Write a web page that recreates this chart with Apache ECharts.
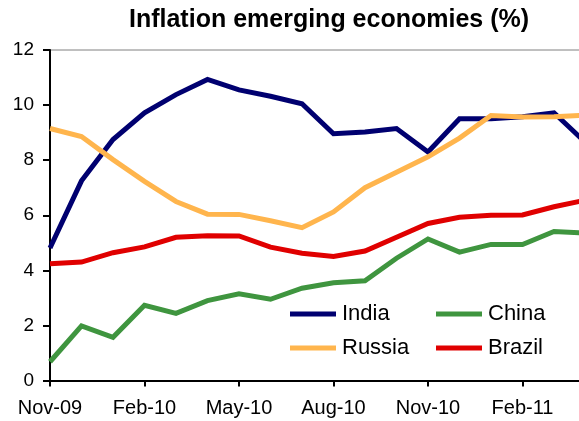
<!DOCTYPE html>
<html>
<head>
<meta charset="utf-8">
<script src="https://cdn.jsdelivr.net/npm/echarts@6/dist/echarts.min.js"></script>
<style>
  html, body { margin: 0; padding: 0; background: #fff; }
  #chart { width: 579px; height: 421px; }
</style>
</head>
<body>
<div id="chart"></div>
<script>
// Monthly inflation, year on year (%)
const months = ['Nov-09','Dec-09','Jan-10','Feb-10','Mar-10','Apr-10','May-10','Jun-10','Jul-10',
                'Aug-10','Sep-10','Oct-10','Nov-10','Dec-10','Jan-11','Feb-11','Mar-11','Apr-11'];
const india  = [4.81, 7.25, 8.75, 9.72, 10.38, 10.93, 10.55, 10.32, 10.05, 8.96, 9.02, 9.15, 8.3, 9.5, 9.5, 9.58, 9.72, 8.64];
const china  = [0.68, 1.98, 1.57, 2.73, 2.44, 2.9, 3.15, 2.95, 3.35, 3.55, 3.62, 4.44, 5.14, 4.66, 4.94, 4.94, 5.41, 5.35];
const russia = [9.15, 8.86, 8.02, 7.23, 6.5, 6.04, 6.03, 5.8, 5.55, 6.12, 7.0, 7.56, 8.12, 8.8, 9.62, 9.57, 9.58, 9.63];
const brazil = [4.24, 4.3, 4.64, 4.85, 5.2, 5.26, 5.25, 4.84, 4.62, 4.5, 4.7, 5.2, 5.7, 5.93, 6.0, 6.01, 6.31, 6.55];
const yTicks = [0, 2, 4, 6, 8, 10, 12];

const colors = { India: '#000070', China: '#3F953F', Russia: '#FFB54D', Brazil: '#E00000' };
const FONT = '"Liberation Sans", Arial, sans-serif';

function lineSeries(name, values) {
  return {
    name: name,
    type: 'line',
    data: values,
    showSymbol: false,
    symbol: 'none',
    lineStyle: { width: 5, color: colors[name], join: 'miter' },
    itemStyle: { color: colors[name] },
    animation: false
  };
}

function legendItem(name, left, top) {
  return {
    data: [name],
    left: left,
    top: top,
    padding: 0,
    icon: 'rect',
    itemWidth: 46,
    itemHeight: 5,
    selectedMode: false,
    textStyle: { fontFamily: FONT, fontSize: 22, color: '#000', padding: [0, 0, 0, 1] }
  };
}

const chart = echarts.init(document.getElementById('chart'), null, { renderer: 'canvas' });
chart.setOption({
  backgroundColor: '#fff',
  animation: false,
  title: {
    text: 'Inflation emerging economies (%)',
    left: 329,
    textAlign: 'center',
    top: 8,
    padding: 0,
    textStyle: { fontFamily: FONT, fontSize: 25, fontWeight: 'bold', color: '#000' }
  },
  legend: [
    legendItem('India', 290, 303),
    legendItem('China', 436, 303),
    legendItem('Russia', 290, 337),
    legendItem('Brazil', 436, 337)
  ],
  grid: {
    left: 50, top: 50, width: 535.5, height: 330.5,
    containLabel: false,
    outerBoundsMode: 'none',
    show: true, borderColor: '#808080', borderWidth: 1, backgroundColor: 'transparent'
  },
  xAxis: {
    type: 'category',
    data: months,
    boundaryGap: false,
    axisLine: { lineStyle: { color: '#000', width: 2 } },
    axisTick: { show: true, length: 6, interval: 2, lineStyle: { color: '#000', width: 2 } },
    axisLabel: { interval: 2, margin: 18, fontFamily: FONT, fontSize: 20, color: '#000' },
    splitLine: { show: false }
  },
  yAxis: {
    type: 'value',
    min: yTicks[0],
    max: yTicks[yTicks.length - 1],
    interval: 2,
    axisLine: { show: true, lineStyle: { color: '#000', width: 2 } },
    axisTick: { show: true, length: 7, lineStyle: { color: '#000', width: 2 } },
    axisLabel: { margin: 16, fontFamily: FONT, fontSize: 19, color: '#000' },
    splitLine: { show: false }
  },
  series: [
    lineSeries('India', india),
    lineSeries('China', china),
    lineSeries('Russia', russia),
    lineSeries('Brazil', brazil)
  ]
});
</script>
</body>
</html>
